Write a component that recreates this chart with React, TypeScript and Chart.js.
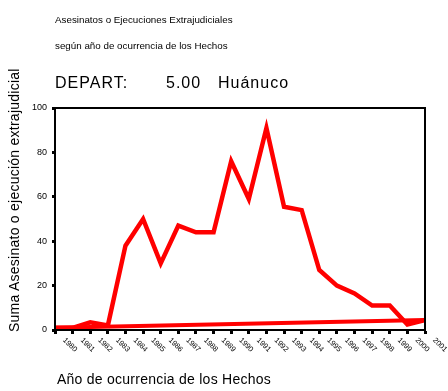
import React, { useEffect, useRef } from "react";
import { Chart, registerables } from "chart.js";
Chart.register(...registerables);

const FONT = "'Liberation Sans', Arial, sans-serif";

const years = [
  "1980", "1981", "1982", "1983", "1984", "1985", "1986", "1987", "1988", "1989", "1990",
  "1991", "1992", "1993", "1994", "1995", "1996", "1997", "1998", "1999", "2000", "2001",
];
const asesinatos = [1, 1, 3.5, 2, 38, 50, 30, 47, 44, 44, 76, 59, 91, 55.5, 54, 27, 20, 16.5, 11, 11, 2.5, 4.5];
const segundaLinea = [1, null, null, null, null, null, null, null, null, null, null, null, null, null, null, null, null, null, null, null, null, 4.5];
const yMin = 0;
const yMax = 100;
const yStep = 20;

const titleLine1 = "Asesinatos o Ejecuciones Extrajudiciales";
const titleLine2 = "según año de ocurrencia de los Hechos";
const departLabel = "DEPART:";
const departCode = "5.00";
const departName = "Huánuco";
const xTitle = "Año de ocurrencia de los Hechos";
const yTitle = "Suma Asesinato o ejecución extrajudicial";

const framePlugin = {
  id: "frameAndLabels",
  afterDraw(chart: any) {
    const { ctx, chartArea: a, scales } = chart;
    ctx.save();
    ctx.strokeStyle = "#000";
    ctx.lineWidth = 2;
    ctx.strokeRect(a.left, a.top, a.right - a.left, a.bottom - a.top);
    const xs = scales.x;
    ctx.font = `7.5px ${FONT}`;
    ctx.fillStyle = "#000";
    ctx.textAlign = "left";
    ctx.textBaseline = "middle";
    years.forEach((label, i) => {
      const px = xs.getPixelForValue(i);
      ctx.save();
      ctx.translate(px + 9, a.bottom + 9);
      ctx.rotate(Math.PI / 4);
      ctx.fillText(label, 0, 0);
      ctx.restore();
    });
    ctx.restore();
  },
};

export default function App() {
  const canvasRef = useRef<HTMLCanvasElement | null>(null);

  useEffect(() => {
    const canvas = canvasRef.current;
    if (!canvas) return;
    const chart = new Chart(canvas, {
      type: "line",
      data: {
        labels: years,
        datasets: [
          {
            data: asesinatos,
            borderColor: "#ff0000",
            backgroundColor: "#ff0000",
            borderWidth: 4.5,
            pointRadius: 0,
            tension: 0,
            fill: false,
          },
          {
            data: segundaLinea as any,
            borderColor: "#ff0000",
            backgroundColor: "#ff0000",
            borderWidth: 4,
            pointRadius: 0,
            tension: 0,
            fill: false,
            spanGaps: true,
          },
        ],
      },
      options: {
        animation: false,
        responsive: false,
        maintainAspectRatio: false,
        devicePixelRatio: 1,
        layout: { padding: { top: 108, right: 23, left: 0, bottom: 0 } },
        plugins: {
          legend: { display: false },
          tooltip: { enabled: false },
          title: { display: false },
        },
        scales: {
          x: {
            type: "category",
            offset: false,
            ticks: {
              autoSkip: false,
              maxRotation: 0,
              minRotation: 0,
              color: "rgba(0,0,0,0)",
              font: { size: 5, family: FONT },
            },
            grid: {
              drawOnChartArea: false,
              drawTicks: true,
              tickLength: 4,
              tickWidth: 3,
              tickColor: "#000",
              offset: false,
            },
            border: { display: true, color: "#000", width: 2 },
            afterFit: (s: any) => {
              s.height = 61;
            },
          },
          y: {
            min: yMin,
            max: yMax,
            ticks: {
              stepSize: yStep,
              color: "#000",
              padding: 5,
              font: { size: 9, family: FONT },
            },
            grid: {
              drawOnChartArea: false,
              drawTicks: true,
              tickLength: 3,
              tickWidth: 3,
              tickColor: "#000",
            },
            border: { display: true, color: "#000", width: 2 },
            afterFit: (s: any) => {
              s.width = 55;
            },
          },
        },
      },
      plugins: [framePlugin],
    });
    return () => chart.destroy();
  }, []);

  const base: React.CSSProperties = {
    position: "absolute",
    whiteSpace: "nowrap",
    fontFamily: FONT,
    color: "#000",
    margin: 0,
  };

  return (
    <div style={{ position: "absolute", left: 0, top: 0, width: 448, height: 391, background: "#fff", overflow: "hidden" }}>
      <canvas
        ref={canvasRef}
        width={448}
        height={391}
        style={{ position: "absolute", left: 0, top: 0, width: 448, height: 391 }}
      />
      <div style={{ ...base, left: 55, top: 14, fontSize: 9.8, lineHeight: "12px" }}>{titleLine1}</div>
      <div style={{ ...base, left: 55, top: 40, fontSize: 9.8, lineHeight: "12px" }}>{titleLine2}</div>
      <div style={{ ...base, left: 55, top: 74, fontSize: 16, lineHeight: "18px", letterSpacing: "1px" }}>{departLabel}</div>
      <div style={{ ...base, left: 166, top: 74, fontSize: 16, lineHeight: "18px", letterSpacing: "1px" }}>{departCode}</div>
      <div style={{ ...base, left: 218, top: 74, fontSize: 16, lineHeight: "18px", letterSpacing: "1px" }}>{departName}</div>
      <div style={{ ...base, left: 57, top: 371, fontSize: 14, lineHeight: "16px", letterSpacing: "0.25px" }}>{xTitle}</div>
      <div
        style={{
          ...base,
          left: 0,
          top: 0,
          fontSize: 14,
          lineHeight: "16px",
          letterSpacing: "0.25px",
          transformOrigin: "0 0",
          transform: "translate(6px, 332px) rotate(-90deg)",
        }}
      >
        {yTitle}
      </div>
    </div>
  );
}
